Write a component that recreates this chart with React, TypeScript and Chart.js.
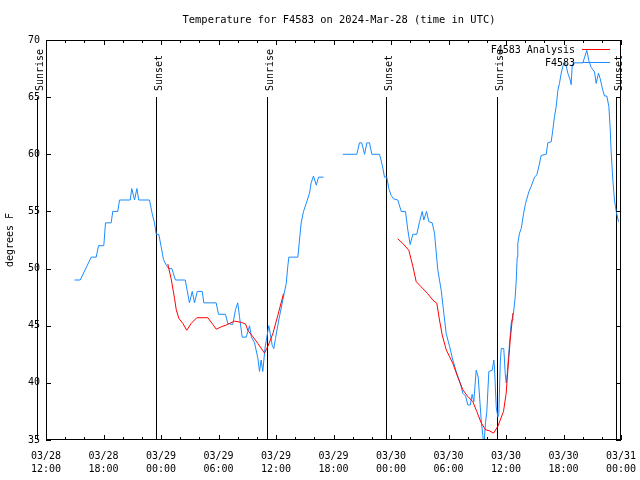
import { useEffect, useRef } from 'react';
import { Chart, registerables } from 'chart.js';

Chart.register(...registerables);

const FONT = "'DejaVu Sans Mono', monospace";
const TITLE = 'Temperature for F4583 on 2024-Mar-28 (time in UTC)';
const Y_TITLE = 'degrees F';

// x values: hours after 2024-03-28 12:00 UTC
const xTickDates = ['03/28', '03/28', '03/29', '03/29', '03/29', '03/29', '03/30', '03/30', '03/30', '03/30', '03/31'];
const xTickTimes = ['12:00', '18:00', '00:00', '06:00', '12:00', '18:00', '00:00', '06:00', '12:00', '18:00', '00:00'];
const yTicks = [35, 40, 45, 50, 55, 60, 65, 70];

// Station observations (F4583)
const obsHours = [
  2.97, 3.57, 4.72, 5.24, 5.48, 6.03, 6.21, 6.8, 6.97, 7.49, 7.67, 8.79, 8.95, 9.24, 9.48, 9.68, 10.8,
  11.08, 11.32, 11.5, 11.77, 12.02, 12.26, 12.54, 12.81, 13.13, 13.51, 14.53, 14.97, 15.26, 15.5, 15.78,
  16.3, 16.47, 17.76, 18.0, 18.73, 18.97, 19.49, 19.77, 20.01, 20.19, 20.47, 20.89, 21.24, 21.44, 21.76,
  22.1, 22.28, 22.45, 22.62, 22.85, 23.04, 23.25, 23.4, 23.6, 23.77, 23.95, 24.29, 24.71, 25.07, 25.23,
  25.34, 26.28, 26.45, 26.63, 26.87, 27.15, 27.5, 27.67, 27.91, 28.2, 28.44, 28.96,
  30.0,
  30.97, 32.43, 32.71, 32.95, 33.24, 33.48, 33.76, 34.0, 34.8, 34.96, 35.15, 35.32, 35.56, 35.77, 36.02,
  36.26, 36.71, 37.07, 37.51, 37.75, 38.0, 38.28, 38.69, 38.98, 39.26, 39.42, 39.71, 39.95, 40.3, 40.54,
  40.88, 41.24, 41.51, 41.76, 42.11, 42.45, 42.87, 43.22, 43.49, 43.78, 44.02, 44.27, 44.47, 44.64, 44.89,
  45.1, 45.41, 45.58, 45.69, 45.86, 46.0, 46.21, 46.56, 46.73, 46.8, 46.98, 47.15, 47.25, 47.4, 47.5,
  47.77, 47.92, 48.02, 48.13, 48.29, 48.54, 48.78, 48.96, 49.07, 49.17, 49.23, 49.41, 49.59, 49.83, 50.04,
  50.38, 50.63, 50.98, 51.22, 51.42, 51.67, 52.2, 52.36, 52.72, 52.88, 53.06, 53.24, 53.41, 53.58, 53.76,
  54.03, 54.21, 54.45, 54.7, 54.8, 54.91, 55.05, 56.02, 56.43, 56.64, 56.89, 57.24, 57.41, 57.65, 57.83,
  58.1, 58.28, 58.52, 58.73, 58.87, 58.98, 59.15, 59.32, 59.5, 59.74,
];
const obsTemps = [
  49, 49, 51, 51, 52, 52, 54, 54, 55, 55, 56, 56, 57, 56, 57, 56, 56,
  54.8, 54, 53, 53, 51.9, 50.8, 50.3, 50, 50, 49, 49, 47, 48, 47, 48,
  48, 47, 47, 46, 46, 45.2, 45.1, 46.4, 47, 45.8, 44, 44, 45, 44, 43.5,
  42.2, 41, 42, 41, 43, 44, 45, 44.3, 43.3, 43, 43.9, 45.5, 47.25, 48.7, 50.2,
  51, 51, 52.5, 54, 55, 55.7, 56.6, 57.5, 58.1, 57.3, 58, 58,
  null,
  60, 60, 61, 61, 60, 61, 61, 60, 60, 59.5, 58.8, 58, 58, 57, 56.4,
  56.1, 56, 55, 55, 53.4, 52.1, 53, 53, 54.1, 55, 54.25, 55, 54.1, 54, 53.1,
  49.9, 48.1, 46.1, 44.3, 43.2, 42, 40.8, 40, 39.1, 38.85, 38.06, 38.06, 39, 38.35, 41.1,
  40.5, 36.75, 35.4, 34.5, 36.5, 37.5, 41, 41.1, 42, 41.3, 37.9, 37, 37.3, 41.7, 43,
  43, 40.8, 40, 40.8, 42.6, 45.2, 46.1, 47.5, 49, 51, 52.2, 53.1, 53.5, 54.8, 55.7,
  56.7, 57.2, 58, 58.2, 58.9, 59.9, 60, 61, 61.1, 62.1, 63.3, 64.2, 65.6, 66.2, 67.1,
  68, 68, 67.1, 66.5, 66.1, 67.8, 68, 68, 69.1, 68.2, 67.6, 67.2, 66.2, 67.1, 66.6,
  65.6, 65.1, 65.1, 64.2, 62.3, 60.1, 57.75, 56, 55, 54.1,
];

// Analysis (F4583 Analysis)
const anaHours = [
  12.71, 13.06, 13.41, 13.59, 13.86, 14.28, 14.69, 15.15, 15.74, 16.88, 17.34, 17.76, 18.28, 18.8, 19.67,
  20.37, 20.82, 21.06, 21.58, 22.1, 22.8, 23.15, 23.67, 24.19, 24.78,
  30.0,
  36.71, 37.23, 37.86, 38.28, 38.63, 39.15, 39.84, 40.36, 40.78, 41.06, 41.34, 41.76, 42.11, 42.45, 42.97,
  43.49, 44.02, 44.54, 44.95, 45.41, 45.86, 46.28, 46.7, 47.15, 47.74, 48.02, 48.19, 48.44, 48.65, 48.71,
];
const anaTemps = [
  50.4, 49.1, 47.4, 46.4, 45.65, 45.2, 44.6, 45.2, 45.7, 45.7, 45.2, 44.7, 44.9, 45.06, 45.4,
  45.3, 45.15, 44.6, 44.04, 43.46, 42.6, 43.2, 44.3, 45.9, 47.8,
  null,
  52.6, 52.2, 51.6, 50.2, 48.85, 48.4, 47.8, 47.25, 46.96, 45.5, 44.2, 42.9, 42.3, 41.7, 40.5,
  39.4, 38.8, 38.35, 37.5, 36.5, 35.9, 35.8, 35.6, 36.2, 37.5, 39.1, 41.1, 43.75, 45.5, 46.1,
];

const sunHours = [-0.92, 11.43, 23.08, 35.5, 47.08, 59.5];
const sunLabels = ['Sunrise', 'Sunset', 'Sunrise', 'Sunset', 'Sunrise', 'Sunset'];
const SUN_LINE_TOP = 65;

const seriesNames = ['F4583 Analysis', 'F4583'];
const seriesColors = ['#ff0000', '#1a8cff'];

const overlay = {
  id: 'overlay',
  beforeDatasetsDraw(chart: any) {
    const { ctx, scales } = chart;
    const x = scales.x;
    const y = scales.y;
    ctx.save();
    ctx.strokeStyle = '#000';
    ctx.fillStyle = '#000';
    ctx.lineWidth = 1;
    ctx.font = `10px ${FONT}`;
    const top = Math.round(y.getPixelForValue(SUN_LINE_TOP));
    const bot = y.getPixelForValue(y.min);
    sunHours.forEach((h, i) => {
      const px = Math.round(x.getPixelForValue(h)) + 0.5;
      ctx.beginPath();
      ctx.moveTo(px, top);
      ctx.lineTo(px, bot);
      ctx.stroke();
      ctx.save();
      ctx.translate(px + 5, top - 6);
      ctx.rotate(-Math.PI / 2);
      ctx.textAlign = 'left';
      ctx.textBaseline = 'alphabetic';
      ctx.fillText(sunLabels[i], 0, 0);
      ctx.restore();
    });
    ctx.restore();
  },
  afterDraw(chart: any) {
    const { ctx, chartArea, scales } = chart;
    const x = scales.x;
    const y = scales.y;
    const { left, right, top, bottom } = chartArea;
    ctx.save();
    ctx.strokeStyle = '#000';
    ctx.lineWidth = 1;
    // frame
    ctx.strokeRect(left + 0.5, top + 0.5, right - left - 1, bottom - top - 1);
    // inward ticks
    ctx.beginPath();
    for (let h = x.min; h <= x.max; h += 2) {
      const px = Math.round(x.getPixelForValue(h)) + 0.5;
      const len = h % 6 === 0 ? 5 : 3;
      ctx.moveTo(px, bottom);
      ctx.lineTo(px, bottom - len);
      ctx.moveTo(px, top);
      ctx.lineTo(px, top + len);
    }
    yTicks.forEach((v) => {
      const py = Math.round(y.getPixelForValue(v)) + 0.5;
      ctx.moveTo(left, py);
      ctx.lineTo(left + 5, py);
      ctx.moveTo(right, py);
      ctx.lineTo(right - 5, py);
    });
    ctx.stroke();
    // title
    ctx.fillStyle = '#000';
    ctx.font = `10.4px ${FONT}`;
    ctx.textAlign = 'center';
    ctx.textBaseline = 'middle';
    ctx.fillText(TITLE, 339, 20);
    // legend
    ctx.font = `10px ${FONT}`;
    ctx.textAlign = 'right';
    seriesNames.forEach((name, i) => {
      const ly = 50 + i * 13;
      ctx.fillStyle = '#000';
      ctx.fillText(name, 575, ly);
      ctx.strokeStyle = seriesColors[i];
      ctx.beginPath();
      ctx.moveTo(582, ly - 0.5);
      ctx.lineTo(610, ly - 0.5);
      ctx.stroke();
    });
    ctx.restore();
  },
};

const zeroPadding = (s: any) => {
  s.paddingLeft = 0;
  s.paddingRight = 0;
  s.paddingTop = 0;
  s.paddingBottom = 0;
};

export default function App() {
  const ref = useRef<HTMLCanvasElement>(null);
  useEffect(() => {
    document.body.style.margin = '0';
    const canvas = ref.current;
    if (!canvas) return;
    Chart.defaults.font.family = FONT;
    Chart.defaults.font.size = 10;
    Chart.defaults.color = '#000';
    const chart = new Chart(canvas, {
      type: 'line',
      data: {
        datasets: [
          {
            label: seriesNames[0],
            data: anaHours.map((h, i) => ({ x: h, y: anaTemps[i] })) as any,
            borderColor: seriesColors[0],
            backgroundColor: seriesColors[0],
            borderWidth: 1,
            pointRadius: 0,
            tension: 0,
            spanGaps: false,
          },
          {
            label: seriesNames[1],
            data: obsHours.map((h, i) => ({ x: h, y: obsTemps[i] })) as any,
            borderColor: seriesColors[1],
            backgroundColor: seriesColors[1],
            borderWidth: 1,
            pointRadius: 0,
            tension: 0,
            spanGaps: false,
          },
        ],
      },
      options: {
        animation: false,
        responsive: false,
        events: [],
        layout: { padding: { top: 40, right: 19, left: 0, bottom: 0 } },
        plugins: {
          legend: { display: false },
          title: { display: false },
          tooltip: { enabled: false },
        },
        scales: {
          x: {
            type: 'linear',
            min: 0,
            max: 60,
            grid: { display: false, drawTicks: false },
            border: { display: false },
            ticks: {
              stepSize: 6,
              autoSkip: false,
              maxRotation: 0,
              padding: 10,
              font: { family: FONT, size: 10, lineHeight: 1.3 },
              color: '#000',
              callback: (v: any) => {
                const i = Math.round(Number(v) / 6);
                return [xTickDates[i], xTickTimes[i]];
              },
            },
            afterFit: (s: any) => {
              s.height = 40;
              zeroPadding(s);
            },
          },
          y: {
            type: 'linear',
            min: 35,
            max: 70,
            grid: { display: false, drawTicks: false },
            border: { display: false },
            ticks: {
              stepSize: 5,
              padding: 6,
              font: { family: FONT, size: 10 },
              color: '#000',
            },
            title: {
              display: true,
              text: Y_TITLE,
              font: { family: FONT, size: 10 },
              color: '#000',
              padding: { top: 4, bottom: 0 },
            },
            afterFit: (s: any) => {
              s.width = 46;
              zeroPadding(s);
            },
          },
        },
      },
      plugins: [overlay],
    });
    return () => chart.destroy();
  }, []);
  return (
    <div style={{ position: 'absolute', left: 0, top: 0, width: 640, height: 480 }}>
      <canvas ref={ref} width={640} height={480} style={{ display: 'block', width: 640, height: 480 }} />
    </div>
  );
}
